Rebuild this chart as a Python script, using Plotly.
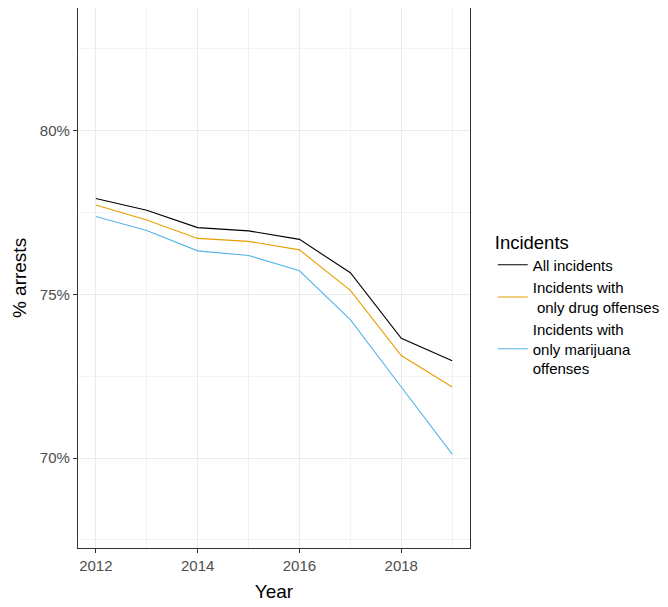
import plotly.graph_objects as go

years = [2012, 2013, 2014, 2015, 2016, 2017, 2018, 2019]
all_incidents = [77.93, 77.57, 77.04, 76.94, 76.68, 75.66, 73.66, 72.97]
drug_only = [77.73, 77.27, 76.71, 76.62, 76.36, 75.12, 73.13, 72.17]
marijuana_only = [77.38, 76.95, 76.33, 76.19, 75.72, 74.23, 72.17, 70.12]

series_names = ["All incidents", "Incidents with<br> only drug offenses",
                "Incidents with<br>only marijuana<br>offenses"]
series_colors = ["#000000", "#E69F00", "#56B4E9"]
y_ticks = [70, 75, 80]
y_ticktext = ["70%", "75%", "80%"]
x_ticks = [2012, 2014, 2016, 2018]

fig = go.Figure()
for name, vals, col in zip(series_names, [all_incidents, drug_only, marijuana_only], series_colors):
    fig.add_trace(go.Scatter(x=years, y=vals, mode="lines", name=name,
                             line=dict(color=col, width=1.1)))

font_family = "Liberation Sans, Arial, sans-serif"
fig.update_layout(
    width=660, height=599,
    margin=dict(l=70, r=198, t=0, b=59),
    paper_bgcolor="white", plot_bgcolor="white",
    font=dict(family=font_family, color="#000000"),
    legend=dict(
        title=dict(text="Incidents", font=dict(size=18.5, color="#000000")),
        font=dict(size=15, color="#000000"),
        x=1.058, xanchor="left", y=0.45, yanchor="middle",
        tracegroupgap=0, itemwidth=30,
        bgcolor="rgba(0,0,0,0)",
    ),
    showlegend=True,
)
fig.update_xaxes(
    range=[2011.65, 2019.35],
    tickvals=x_ticks, ticktext=[str(v) for v in x_ticks],
    ticks="outside", ticklen=4, tickcolor="#333333",
    tickfont=dict(size=15, color="#4D4D4D"),
    showgrid=True, gridcolor="#EBEBEB", gridwidth=1,
    minor=dict(dtick=1, tick0=2013, showgrid=True, gridcolor="#F2F2F2", gridwidth=0.6),
    showline=True, linecolor="#333333", linewidth=1.2, mirror=True,
    zeroline=False,
    title=dict(text="Year", font=dict(size=19, color="#000000"), standoff=11),
)
fig.update_yaxes(
    range=[67.25, 83.75],
    tickvals=y_ticks, ticktext=y_ticktext,
    ticks="outside", ticklen=4, tickcolor="#333333",
    tickfont=dict(size=15, color="#4D4D4D"),
    showgrid=True, gridcolor="#EBEBEB", gridwidth=1,
    minor=dict(dtick=2.5, tick0=0, showgrid=True, gridcolor="#F2F2F2", gridwidth=0.6),
    showline=True, linecolor="#333333", linewidth=1.2, mirror=True,
    zeroline=False,
    title=dict(text="% arrests", font=dict(size=19, color="#000000"), standoff=8),
)

fig.write_html("out.html")
